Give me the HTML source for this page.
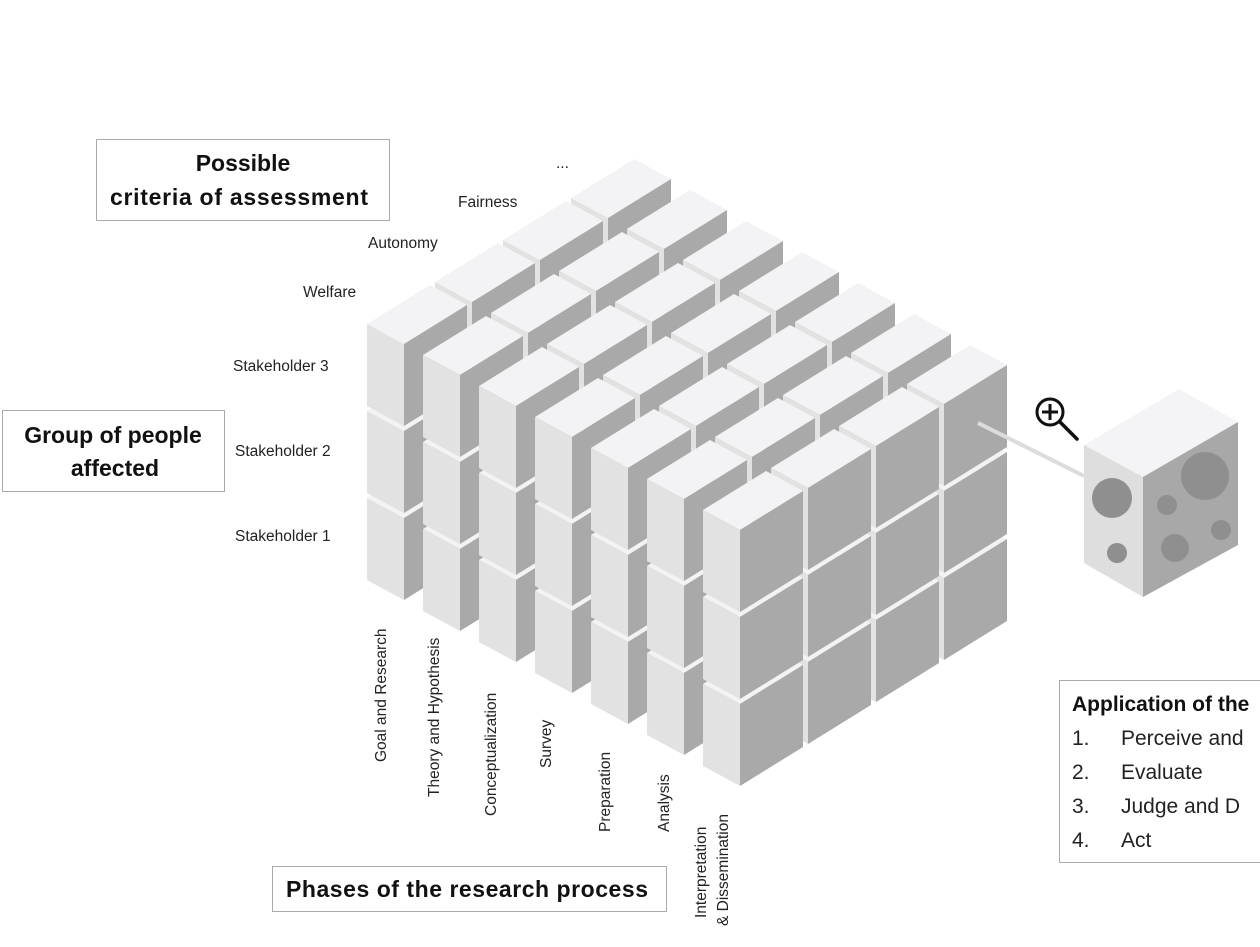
<!DOCTYPE html>
<html><head><meta charset="utf-8"><style>
html,body{margin:0;padding:0;background:#fff;}
svg{display:block;}
text{font-family:"Liberation Sans",sans-serif;fill:#222;}
.b{font-weight:bold;fill:#111;}
</style></head><body>
<svg id="s" width="1260" height="947" viewBox="0 0 1260 947" xmlns="http://www.w3.org/2000/svg">
<rect width="1260" height="947" fill="#fff"/>
<g id="cubes"></g>
<line x1="978" y1="423" x2="1084" y2="476" stroke="#dcdcdc" stroke-width="4"/>
<circle cx="1050" cy="412" r="13" fill="none" stroke="#111" stroke-width="3"/>
<line x1="1050" y1="404" x2="1050" y2="420" stroke="#111" stroke-width="3"/>
<line x1="1042" y1="412" x2="1058" y2="412" stroke="#111" stroke-width="3"/>
<line x1="1060" y1="422" x2="1077" y2="439" stroke="#111" stroke-width="3.5" stroke-linecap="round"/>
<polygon points="1084,445 1143,477 1238,422 1179,389" fill="#f4f4f6"/>
<polygon points="1084,445 1143,477 1143,597 1084,563" fill="#dedede"/>
<polygon points="1143,477 1238,422 1238,545 1143,597" fill="#a8a8a8"/>
<g fill="#8f8f8f">
<circle cx="1112" cy="498" r="20"/><circle cx="1117" cy="553" r="10"/>
<circle cx="1205" cy="476" r="24"/><circle cx="1167" cy="505" r="10"/>
<circle cx="1175" cy="548" r="14"/><circle cx="1221" cy="530" r="10"/>
</g>
<rect x="96.5" y="139.5" width="293" height="81" fill="#fff" stroke="#aaa"/>
<text class="b" x="243" y="171" font-size="23" text-anchor="middle">Possible</text>
<text class="b" x="239" y="205" font-size="23" text-anchor="middle" textLength="258">criteria of assessment</text>
<rect x="2.5" y="410.5" width="222" height="81" fill="#fff" stroke="#aaa"/>
<text class="b" x="113" y="443" font-size="23" text-anchor="middle">Group of people</text>
<text class="b" x="115" y="476" font-size="23" text-anchor="middle">affected</text>
<rect x="272.5" y="866.5" width="394" height="45" fill="#fff" stroke="#aaa"/>
<text class="b" x="467" y="897" font-size="23" text-anchor="middle" textLength="362">Phases of the research process</text>
<rect x="1059.5" y="680.5" width="230" height="182" fill="#fff" stroke="#aaa"/>
<text class="b" x="1072" y="711" font-size="21">Application of the</text>
<g font-size="21">
<text x="1072" y="745">1.</text><text x="1121" y="745">Perceive and</text>
<text x="1072" y="779">2.</text><text x="1121" y="779">Evaluate</text>
<text x="1072" y="813">3.</text><text x="1121" y="813">Judge and D</text>
<text x="1072" y="847">4.</text><text x="1121" y="847">Act</text>
</g>
<g font-size="15.5">
<text x="556" y="168">...</text>
<text x="458" y="207">Fairness</text>
<text x="368" y="248">Autonomy</text>
<text x="303" y="297">Welfare</text>
<text x="233" y="371">Stakeholder 3</text>
<text x="235" y="456">Stakeholder 2</text>
<text x="235" y="541">Stakeholder 1</text>
</g>
<g font-size="15.5">
<text transform="translate(386,762) rotate(-90)">Goal and Research</text>
<text transform="translate(439,797) rotate(-90)">Theory and Hypothesis</text>
<text transform="translate(496,816) rotate(-90)">Conceptualization</text>
<text transform="translate(551,768) rotate(-90)">Survey</text>
<text transform="translate(610,832) rotate(-90)">Preparation</text>
<text transform="translate(669,832) rotate(-90)">Analysis</text>
<text transform="translate(706,918) rotate(-90)">Interpretation</text>
<text transform="translate(728,926) rotate(-90)">&amp; Dissemination</text>
</g>
</svg>
<script>
(function(){
var g=document.getElementById('cubes'),ns='http://www.w3.org/2000/svg';
var O=[367,324],P=[56,31],D=[68,-42],V=[0,87],a=[37,20],b=[63,-39],h=82;
function poly(pts,f){var p=document.createElementNS(ns,'polygon');p.setAttribute('points',pts.map(function(q){return q[0]+','+q[1];}).join(' '));p.setAttribute('fill',f);g.appendChild(p);}
function add(p,q){return [p[0]+q[0],p[1]+q[1]];}
for(var j=3;j>=0;j--)for(var i=0;i<7;i++)for(var k=2;k>=0;k--){
var c=[O[0]+i*P[0]+j*D[0]+k*V[0],O[1]+i*P[1]+j*D[1]+k*V[1]];
var ca=add(c,a),cab=add(ca,b),cb=add(c,b),H=[0,h];
poly([c,ca,cab,cb],'#f3f3f5');
poly([c,ca,add(ca,H),add(c,H)],'#e2e2e2');
poly([ca,cab,add(cab,H),add(ca,H)],'#a9a9a9');
}
})();
</script>
</body></html>
